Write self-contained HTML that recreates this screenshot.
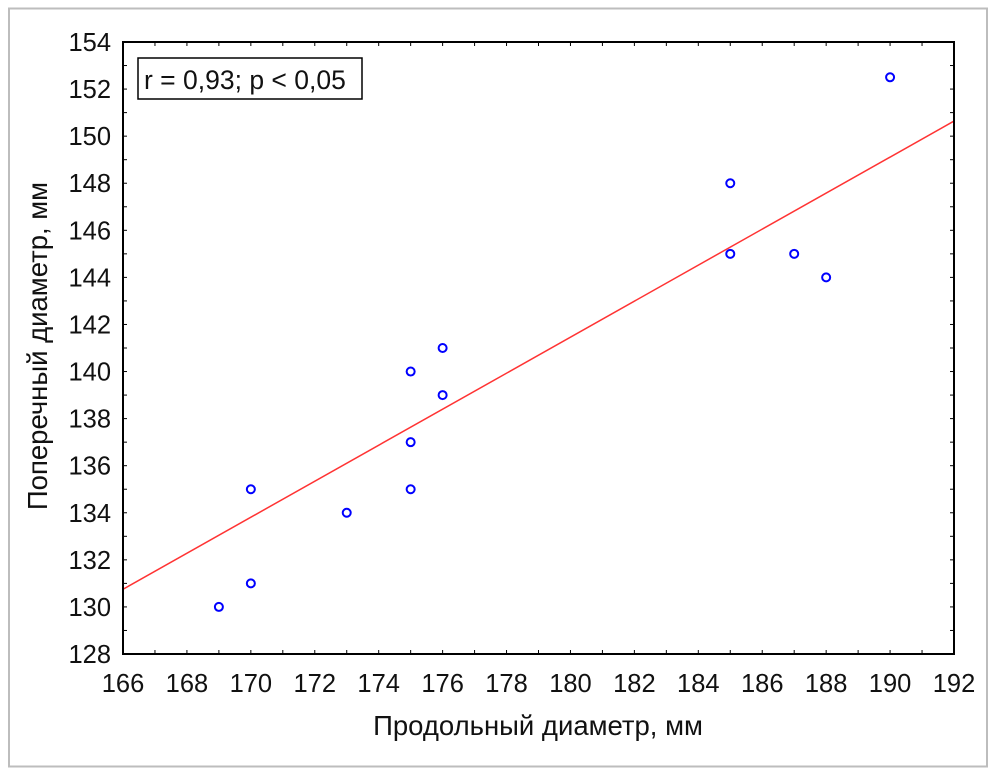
<!DOCTYPE html>
<html><head><meta charset="utf-8"><style>
body{margin:0;background:#fff;font-family:"Liberation Sans",sans-serif}
</style></head><body>
<svg id="chart" width="997" height="778" xmlns="http://www.w3.org/2000/svg" font-family="Liberation Sans, sans-serif">
<rect x="9" y="8.5" width="978" height="758" fill="none" stroke="#bdbdbd" stroke-width="2"/>
<g id="ticks"></g>
<line id="fit" stroke="#ff3333" stroke-width="1.5"/>
<g id="pts"></g>
<rect x="123" y="42" width="831" height="612" fill="none" stroke="#000" stroke-width="2"/>
<g>
<rect x="138" y="58" width="224" height="41" fill="#fff" stroke="#000" stroke-width="1.5"/>
<text x="144" y="89" font-size="26.5" fill="#111">r = 0,93; p &lt; 0,05</text>
</g>
<text x="538" y="735" font-size="27.5" text-anchor="middle" fill="#111">Продольный диаметр, мм</text>
<text transform="translate(47,346) rotate(-90)" font-size="27.5" text-anchor="middle" fill="#111">Поперечный диаметр, мм</text>
</svg>
<script>
const xTicks=[166,168,170,172,174,176,178,180,182,184,186,188,190,192];
const yTicks=[128,130,132,134,136,138,140,142,144,146,148,150,152,154];
const xVals=[169,170,170,173,175,175,175,176,176,185,185,187,188,190];
const yVals=[130,131,135,134,140,137,135,141,139,148,145,145,144,152.5];
const fitX=[166,192];
const fitY=[130.75,150.64];
const X0=123,X1=954,Y0=42,Y1=654;
const sx=v=>X0+(v-166)/(192-166)*(X1-X0);
const sy=v=>Y1-(v-128)/(154-128)*(Y1-Y0);
const NS="http://www.w3.org/2000/svg";
const tg=document.getElementById('ticks');
function mk(tag,attrs,parent){const e=document.createElementNS(NS,tag);for(const k in attrs)e.setAttribute(k,attrs[k]);parent.appendChild(e);return e;}
for(let v=166;v<=192;v++){
  const x=sx(v);
  const a=mk('line',{x1:x,x2:x,y1:Y1,y2:Y1-4,stroke:'#000','stroke-width':1},tg);
  
  
  mk('line',{x1:x,x2:x,y1:Y0,y2:Y0+4,stroke:'#000','stroke-width':1},tg);
}
for(let v=128;v<=154;v++){
  const y=sy(v);
  const a=mk('line',{x1:X0,x2:X0+4,y1:y,y2:y,stroke:'#000','stroke-width':1},tg);
  
  
  mk('line',{x1:X1,x2:X1-4,y1:y,y2:y,stroke:'#000','stroke-width':1},tg);
}
xTicks.forEach(v=>{const t=mk('text',{x:sx(v),y:692,'font-size':25.5,'text-anchor':'middle',fill:'#111'},tg);t.textContent=v;
  
  });
yTicks.forEach(v=>{const t=mk('text',{x:111,y:sy(v)+9,'font-size':25.5,'text-anchor':'end',fill:'#111'},tg);t.textContent=v;
  
  });
const f=document.getElementById('fit');
f.setAttribute('x1',sx(fitX[0]));f.setAttribute('y1',sy(fitY[0]));
f.setAttribute('x2',sx(fitX[1]));f.setAttribute('y2',sy(fitY[1]));
const pg=document.getElementById('pts');
xVals.forEach((v,i)=>{const c=mk('circle',{cx:sx(v),cy:sy(yVals[i]),r:4,fill:'#fff',stroke:'#0000ff','stroke-width':2},pg);
  
  });
</script>
</body></html>
